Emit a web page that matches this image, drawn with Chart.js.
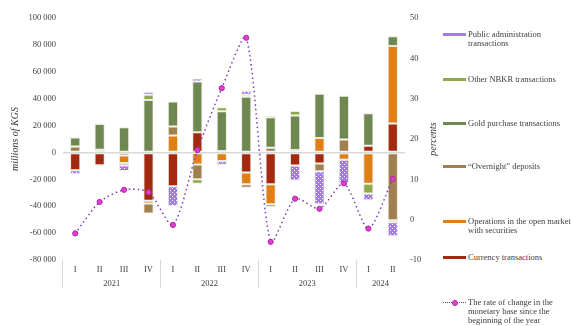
<!DOCTYPE html>
<html>
<head>
<meta charset="utf-8">
<script src="https://cdn.jsdelivr.net/npm/chart.js@4.4.1/dist/chart.umd.min.js"></script>
<style>
    body { margin: 0; background: #fff; font-family: 'Liberation Serif', serif; color: #404040; }
    #wrap { position: relative; width: 571px; height: 326px; overflow: hidden; }
    #chartBox { position: absolute; left: 0; top: 0; width: 427px; height: 326px; }
    .leg { position: absolute; left: 468px; font-size: 8.5px; line-height: 9px; white-space: nowrap; }
    .sw { position: absolute; left: 443px; width: 23px; height: 3px; }
    #rightTitle { position: absolute; left: 432px; top: 139px; transform: translate(-50%, -50%) rotate(-90deg);
                  font-style: italic; font-size: 10px; white-space: nowrap; }
</style>
</head>
<body>
<div id="wrap">
    <div id="chartBox"><canvas id="baseChart"></canvas></div>
    <div id="rightTitle">percents</div>
    <div id="legend"></div>
</div>
<script>
// Categories
const quarters = ['I', 'II', 'III', 'IV', 'I', 'II', 'III', 'IV', 'I', 'II', 'III', 'IV', 'I', 'II'];
const years = ['2021', '2022', '2023', '2024'];
const quartersPerYear = [4, 4, 4, 2];

// Series, millions of KGS
const currencyOps = [-13300, -9600, -2200, -36000, -25200, 15000, 0, -15000, -23700, -9800, -8200, 0, 5000, 21500];
const openMarketOps = [0, 2000, -5700, -2000, 12600, -8900, -6400, -8700, -14800, 0, 10800, -5400, -23200, 57600];
const overnightDeposits = [4400, -600, -1700, -7400, 6700, -11100, 1100, -2500, 3500, 1800, -5700, 9600, 0, -50400];
const goldPurchases = [6700, 19100, 18800, 39000, 18500, 37800, 29600, 41500, 22700, 25600, 32900, 32600, 24200, 7400];
const otherNbkrOps = [300, 0, 300, 3900, 0, -3200, 3000, 1500, -2000, 3500, 400, 400, -7400, -1500];
const publicAdminOps = [-2700, 500, -4200, 2200, -14600, 2200, -2700, 2700, 1200, -11100, -24700, -17300, -5000, -10400];

// Rate of change of the monetary base since the beginning of the year, %
const baseChangeRate = [-3.4, 4.4, 7.4, 6.8, -1.3, 17.2, 32.6, 45.1, -5.5, 5.2, 2.7, 9.0, -2.2, 10.1];

// Legend labels
const seriesNames = [
    ['Currency transactions'],
    ['Operations in the open market', 'with securities'],
    ['\u201COvernight\u201D deposits'],
    ['Gold purchase transactions'],
    ['Other NBKR transactions'],
    ['Public administration', 'transactions'],
    ['The rate of change in the', 'monetary base since the', 'beginning of the year']
];

const textColor = '#404040';
const fontFamily = "'Liberation Serif', 'Times New Roman', serif";
const colors = ['#a32a10', '#e07f18', '#a08050', '#6f8750', '#8fa84a'];

// dotted purple fill for public administration
function makePattern() {
    const c = document.createElement('canvas');
    c.width = 4;
    c.height = 4;
    const g = c.getContext('2d');
    g.fillStyle = '#a07af4';
    g.fillRect(0, 0, 4, 4);
    g.fillStyle = '#ffffff';
    g.fillRect(0, 0, 1, 1);
    g.fillRect(2, 2, 1, 1);
    return g.createPattern(c, 'repeat');
}
const publicPattern = makePattern();

// year group centres and boundaries (category indices)
const yearCenters = [];
const yearBounds = [0];
let start = 0;
quartersPerYear.forEach(n => {
    yearCenters.push(start + (n - 1) / 2);
    start += n;
    yearBounds.push(start);
});

function fmtThousands(v) {
    return v.toLocaleString('en-US').replace(/,/g, ' ');
}

function barSet(label, data, bg) {
    return {
        type: 'bar',
        label: label,
        data: data,
        backgroundColor: bg,
        borderColor: 'rgba(232, 232, 220, 0.9)',
        borderWidth: 1,
        borderSkipped: false,
        order: 1,
        yAxisID: 'y'
    };
}

const tickFont = { family: fontFamily, size: 8.5 };

const ctx = document.getElementById('baseChart').getContext('2d');
const baseChart = new Chart(ctx, {
    data: {
        labels: quarters,
        datasets: [
            barSet(seriesNames[0].join(' '), currencyOps, colors[0]),
            barSet(seriesNames[1].join(' '), openMarketOps, colors[1]),
            barSet(seriesNames[2].join(' '), overnightDeposits, colors[2]),
            barSet(seriesNames[3].join(' '), goldPurchases, colors[3]),
            barSet(seriesNames[4].join(' '), otherNbkrOps, colors[4]),
            barSet(seriesNames[5].join(' '), publicAdminOps, publicPattern),
            {
                type: 'line',
                label: seriesNames[6].join(' '),
                data: baseChangeRate,
                yAxisID: 'y1',
                order: 0,
                borderColor: '#7a3cb8',
                borderWidth: 1.5,
                borderDash: [1.5, 3],
                tension: 0.25,
                fill: false,
                pointRadius: 2.6,
                pointBackgroundColor: '#e23ccc',
                pointBorderColor: '#b02aa8',
                pointBorderWidth: 1
            }
        ]
    },
    options: {
        responsive: true,
        maintainAspectRatio: false,
        animation: false,
        datasets: {
            bar: { categoryPercentage: 1, barPercentage: 0.42 }
        },
        layout: { padding: { top: 18, bottom: 21, left: 0, right: 0 } },
        plugins: {
            legend: { display: false },
            tooltip: { enabled: false }
        },
        scales: {
            x: {
                stacked: true,
                offset: true,
                weight: 0,
                border: { display: false },
                grid: {
                    display: true,
                    offset: true,
                    drawOnChartArea: false,
                    drawTicks: true,
                    tickLength: 28,
                    lineWidth: 1,
                    color: c => yearBounds.includes(c.index) ? '#d9d9d9' : 'rgba(0,0,0,0)'
                },
                ticks: { padding: -23, font: tickFont, color: textColor, maxRotation: 0, autoSkip: false },
                afterFit: s => { s.height = 15; }
            },
            xYear: {
                type: 'linear',
                position: 'bottom',
                weight: 1,
                min: -0.5,
                max: quarters.length - 0.5,
                border: { display: false },
                grid: { display: false, drawTicks: false },
                afterBuildTicks: s => { s.ticks = yearCenters.map(v => ({ value: v })); },
                ticks: {
                    callback: (v, i) => years[i],
                    padding: 4,
                    autoSkip: false,
                    maxRotation: 0,
                    font: tickFont,
                    color: textColor
                },
                afterFit: s => { s.height = 30; }
            },
            y: {
                stacked: true,
                min: -80000,
                max: 100000,
                border: { display: false },
                grid: {
                    drawTicks: false,
                    lineWidth: 1.5,
                    color: c => (c.tick && c.tick.value === 0) ? '#d9d9d9' : 'rgba(0,0,0,0)'
                },
                ticks: { stepSize: 20000, padding: 7, font: tickFont, color: textColor, callback: v => fmtThousands(v) },
                title: {
                    display: true,
                    text: 'millions of KGS',
                    color: textColor,
                    font: { family: fontFamily, size: 10, style: 'italic' },
                    padding: { top: 9, bottom: 0 }
                },
                afterFit: s => { s.width = 63; }
            },
            y1: {
                position: 'right',
                stacked: false,
                min: -10,
                max: 50,
                border: { display: false },
                grid: { display: false, drawTicks: false },
                ticks: { stepSize: 10, padding: 5, font: tickFont, color: textColor },
                afterFit: s => { s.width = 22; }
            }
        }
    }
});

// HTML legend, top to bottom as in the source (reverse of stacking order)
const legendTops = [253, 217, 162, 118.5, 74.5, 29.5, 297.8];
const legend = document.getElementById('legend');
seriesNames.forEach((lines, i) => {
    const top = legendTops[i];
    const txt = document.createElement('div');
    txt.className = 'leg';
    txt.style.top = top + 'px';
    txt.innerHTML = lines.join('<br>');
    legend.appendChild(txt);

    if (i < 6) {
        const sw = document.createElement('div');
        sw.className = 'sw';
        sw.style.top = (top + 3) + 'px';
        if (i === 5) {
            sw.style.background = '#a07af4';
            sw.style.backgroundImage = 'radial-gradient(#ffffff 0.6px, transparent 0.7px)';
            sw.style.backgroundSize = '2px 2px';
        } else {
            sw.style.background = colors[i];
        }
        legend.appendChild(sw);
    } else {
        const ln = document.createElement('div');
        ln.style.cssText = 'position:absolute;left:443px;width:23px;top:' + (top + 4) + 'px;border-top:1.5px dotted #7a3cb8;';
        legend.appendChild(ln);
        const dot = document.createElement('div');
        dot.style.cssText = 'position:absolute;left:451.5px;width:4px;height:4px;border-radius:50%;background:#e23ccc;border:1px solid #b02aa8;top:' + (top + 2) + 'px;';
        legend.appendChild(dot);
    }
});
</script>
</body>
</html>
